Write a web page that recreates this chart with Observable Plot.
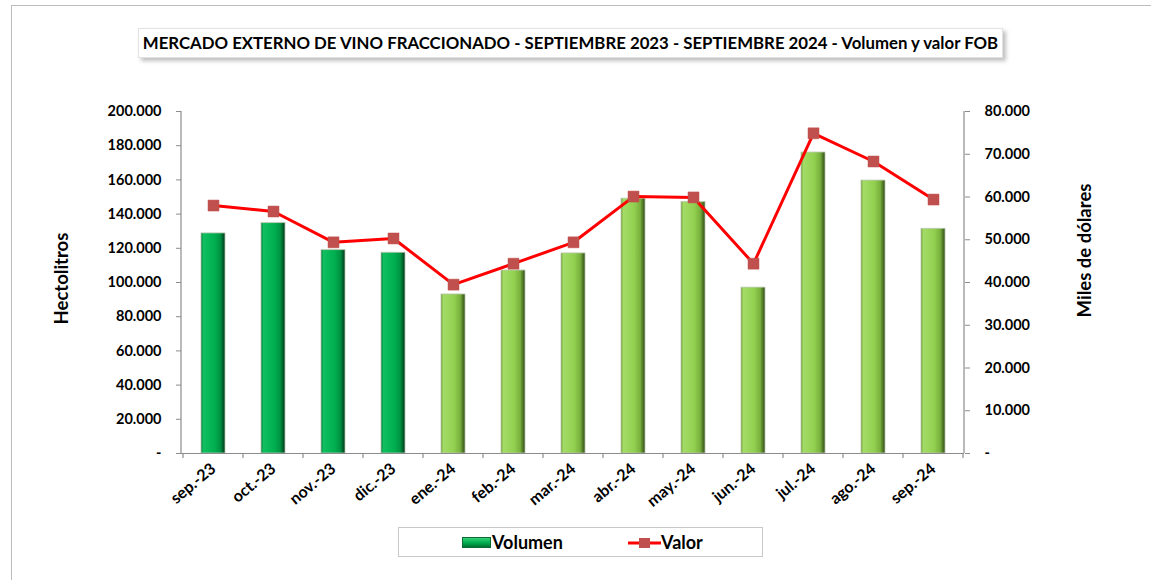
<!DOCTYPE html>
<html>
<head>
<meta charset="utf-8">
<script src="https://cdn.jsdelivr.net/npm/d3@7"></script>
<script src="https://cdn.jsdelivr.net/npm/@observablehq/plot@0.6"></script>
<style>
  html, body { margin: 0; padding: 0; background: #fff; }
  #wrap { position: relative; width: 1151px; height: 580px; overflow: hidden; font-family: Lato, "Open Sans", sans-serif; }
  #border { position: absolute; left: 11px; top: 5px; width: 1160px; height: 600px; border: 1.5px solid #bdbdbd; box-sizing: border-box; }
  #chart { position: absolute; left: 0; top: 0; }
  #title { position: absolute; left: 138px; top: 28px; width: 865px; height: 30px; box-sizing: border-box; border: 1px solid #e2e2e2; background: #fff;
           box-shadow: 3px 3px 4px rgba(0,0,0,0.25); font-weight: bold; font-size: 16.8px; line-height: 28px; text-align: center; color: #000; white-space: nowrap; }
  #legend { position: absolute; left: 398px; top: 527px; width: 365px; height: 30px; box-sizing: border-box; border: 1px solid #c8c8c8; background: #fff; }
  .lg { position: absolute; top: 0; height: 28px; line-height: 29px; font-weight: bold; font-size: 18px; color: #000; }
</style>
</head>
<body>
<div id="wrap">
  <div id="border"></div>
  <div id="chart"></div>
  <div id="title">MERCADO EXTERNO DE VINO FRACCIONADO - SEPTIEMBRE 2023 - SEPTIEMBRE 2024 - Volumen y valor FOB</div>
  <div id="legend">
    <svg style="position:absolute;left:63px;top:9px" width="30" height="12">
      <defs>
        <linearGradient id="lgg" x1="0" y1="0" x2="0" y2="1">
          <stop offset="0" stop-color="#3fd27f"/><stop offset="0.5" stop-color="#00b050"/><stop offset="1" stop-color="#006b30"/>
        </linearGradient>
      </defs>
      <rect x="0.5" y="0.5" width="28" height="10" fill="url(#lgg)" stroke="#0a6b33" stroke-width="1"/>
    </svg>
    <div class="lg" style="left:93px">Volumen</div>
    <svg style="position:absolute;left:229px;top:6px" width="34" height="18">
      <line x1="0" y1="9" x2="33" y2="9" stroke="#ff0000" stroke-width="3"/>
      <rect x="11" y="4" width="11" height="10" fill="#c0504d"/>
    </svg>
    <div class="lg" style="left:262px">Valor</div>
  </div>
</div>
<script>
const months = ["sep.-23","oct.-23","nov.-23","dic.-23","ene.-24","feb.-24","mar.-24","abr.-24","may.-24","jun.-24","jul.-24","ago.-24","sep.-24"];
const volumen = [128700, 134700, 118900, 117400, 93000, 107000, 117000, 149000, 147000, 97000, 176000, 159600, 131400];
const valor = [58000, 56600, 49400, 50300, 39500, 44400, 49400, 60100, 59900, 44400, 74900, 68300, 59400];
const years = [2023,2023,2023,2023,2024,2024,2024,2024,2024,2024,2024,2024,2024];
const leftTicks = [0,20000,40000,60000,80000,100000,120000,140000,160000,180000,200000];
const rightTicks = [0,10000,20000,30000,40000,50000,60000,70000,80000];

const ratio = 200000 / 80000;
const data = months.map((m, i) => ({m, vol: volumen[i], val: valor[i], valS: valor[i] * ratio, year: years[i]}));
const fmt = v => v === 0 ? "-" : d3.format(",")(v).replace(/,/g, ".");

const font = "Lato, 'Open Sans', sans-serif";
const W = 1151, H = 520, mL = 181, mR = 187, mT = 111, mB = 67;

const boundaryTicks = (index, scales, values, dims) => {
  const g = d3.create("svg:g");
  const x = scales.x;
  const step = x.step();
  const y0 = dims.height - dims.marginBottom;
  const xs = months.map(m => x(m) - (step - x.bandwidth()) / 2);
  xs.push(x(months[months.length - 1]) + x.bandwidth() + (step - x.bandwidth()) / 2);
  g.selectAll("line").data(xs).join("line")
    .attr("x1", d => d).attr("x2", d => d).attr("y1", y0).attr("y2", y0 + 5)
    .attr("stroke", "#8c8c8c").attr("stroke-width", 1.2);
  return g.node();
};

const plot = Plot.plot({
  width: W, height: H,
  marginLeft: mL, marginRight: mR, marginTop: mT, marginBottom: mB,
  style: {fontFamily: font, fontSize: "14.5px", fontWeight: "bold", color: "#000", background: "transparent"},
  x: {domain: months, padding: 0.6, paddingOuter: 0.3, label: null},
  y: {domain: [0, 200000], label: null},
  marks: [
    Plot.barY(data, {x: "m", y: "vol", fill: d => d.year === 2023 ? "url(#gDark)" : "url(#gLight)", stroke: "#b9c7b0", strokeWidth: 0.8}),
    Plot.ruleY([0], {stroke: "#8c8c8c", strokeWidth: 1.2}),
    Plot.axisY({anchor: "left", ticks: leftTicks, tickFormat: fmt, tickSize: 5, tickPadding: 15, stroke: "#8c8c8c", fontSize: 14.5, fontWeight: "bold", label: null}),
    Plot.axisY({anchor: "right", ticks: rightTicks.map(v => v * ratio), tickFormat: v => fmt(Math.round(v / ratio)), tickSize: 5, tickPadding: 15, stroke: "#8c8c8c", fontSize: 14.5, fontWeight: "bold", label: null}),
    Plot.axisX({tickSize: 0, tickRotate: -40, tickPadding: 13, fontSize: 16, fontWeight: "bold", label: null}),
    boundaryTicks,
    Plot.lineY(data, {x: "m", y: "valS", stroke: "#ff0000", strokeWidth: 3}),
    Plot.dot(data, {x: "m", y: "valS", symbol: "square", r: 6.2, fill: "#c0504d", stroke: "#c0504d", strokeWidth: 0.5}),
    Plot.text(["Hectolitros"], {frameAnchor: "left", textAnchor: "middle", dx: -119, dy: -4, rotate: -90, fontSize: 18.5, fontWeight: "bold", fill: "#000"}),
    Plot.text(["Miles de dólares"], {frameAnchor: "right", textAnchor: "middle", dx: 121, dy: -32, rotate: -90, fontSize: 18.5, fontWeight: "bold", fill: "#000"})
  ]
});

const svg = d3.select(plot);
const defs = svg.insert("defs", ":first-child");
function grad(id, stops) {
  const g = defs.append("linearGradient").attr("id", id).attr("x1", 0).attr("y1", 0).attr("x2", 1).attr("y2", 0);
  stops.forEach(([o, c]) => g.append("stop").attr("offset", o).attr("stop-color", c));
}
grad("gDark", [[0, "#0a7a3c"], [0.1, "#10c060"], [0.55, "#00b050"], [0.8, "#009343"], [1, "#00381a"]]);
grad("gLight", [[0, "#6f9e3c"], [0.1, "#a4dc66"], [0.55, "#92d050"], [0.8, "#79b03e"], [1, "#2f4a14"]]);
svg.append("line").attr("x1", mL).attr("x2", mL).attr("y1", mT).attr("y2", H - mB).attr("stroke", "#8c8c8c").attr("stroke-width", 1.2);
svg.append("line").attr("x1", W - mR).attr("x2", W - mR).attr("y1", mT).attr("y2", H - mB).attr("stroke", "#8c8c8c").attr("stroke-width", 1.2);
document.getElementById("chart").appendChild(plot);
</script>
</body>
</html>
